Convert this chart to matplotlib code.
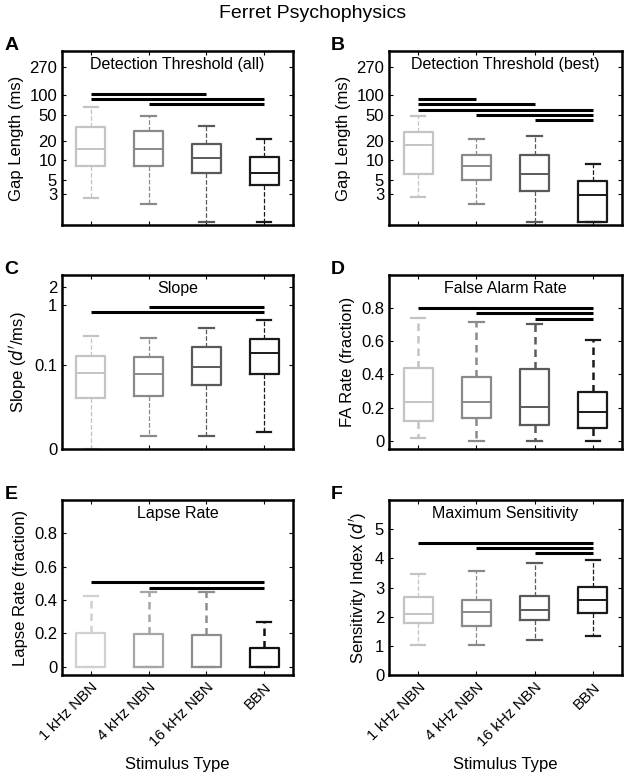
import numpy as np
import matplotlib
matplotlib.use('Agg')
import matplotlib.pyplot as plt
from matplotlib.ticker import FixedLocator, FixedFormatter, NullLocator

plt.rcParams['font.family'] = ['Liberation Sans', 'DejaVu Sans']

stimuli = ['1 kHz NBN', '4 kHz NBN', '16 kHz NBN', 'BBN']

# A: detection threshold (all), ms
A_lo = [2.6, 2.07, 1.1, 1.1]
A_q1 = [8.1, 8.2, 6.3, 4.1]
A_med = [14.7, 14.7, 10.9, 6.4]
A_q3 = [31.8, 27.6, 17.7, 11.3]
A_hi = [66, 48, 33, 21.4]
A_sig = [(1, 3, 106), (1, 4, 86), (2, 4, 72)]

# B: detection threshold (best), ms
B_lo = [2.7, 2.07, 1.1, 1.1]
B_q1 = [6.2, 4.9, 3.3, 1.1]
B_med = [16.9, 8.1, 6.2, 2.9]
B_q3 = [27, 12.1, 11.8, 4.8]
B_hi = [47, 21.2, 23.4, 8.8]
B_sig = [(1, 2, 86), (1, 3, 72), (1, 4, 60), (2, 4, 50), (3, 4, 41)]

# C: slope, d'/ms
C_lo = [0.0, 0.0028, 0.0028, 0.0039]
C_q1 = [0.026, 0.028, 0.046, 0.072]
C_med = [0.0735, 0.071, 0.092, 0.164]
C_q3 = [0.141, 0.139, 0.20, 0.274]
C_hi = [0.311, 0.288, 0.42, 0.572]
C_sig = [(1, 4, 0.757), (2, 4, 0.926)]

# D: false alarm rate
D_lo = [0.018, 0.0, 0.0, 0.0]
D_q1 = [0.121, 0.139, 0.095, 0.075]
D_med = [0.232, 0.232, 0.202, 0.172]
D_q3 = [0.437, 0.383, 0.433, 0.292]
D_hi = [0.74, 0.715, 0.705, 0.607]
D_sig = [(1, 4, 0.80), (2, 4, 0.77), (3, 4, 0.735)]

# E: lapse rate
E_lo = [0.0, 0.0, 0.0, 0.0]
E_q1 = [0.0, 0.0, 0.0, 0.0]
E_med = [0.0, 0.0, 0.0, 0.0]
E_q3 = [0.20, 0.196, 0.19, 0.114]
E_hi = [0.426, 0.446, 0.446, 0.27]
E_sig = [(1, 4, 0.506), (2, 4, 0.474)]

# F: maximum sensitivity, d'
F_lo = [1.04, 1.04, 1.19, 1.33]
F_q1 = [1.79, 1.69, 1.88, 2.13]
F_med = [2.10, 2.17, 2.22, 2.58]
F_q3 = [2.68, 2.58, 2.71, 3.01]
F_hi = [3.45, 3.56, 3.83, 3.93]
F_sig = [(1, 4, 4.53), (2, 4, 4.35), (3, 4, 4.18)]

greys = ['#c4c4c4', '#8a8a8a', '#5a5a5a', '#1a1a1a']
greys_E = ['#d0d0d0', '#a6a6a6', '#8e8e8e', '#111111']

fig = plt.figure(figsize=(6.25, 7.75), dpi=100)
fig.text(0.5, 0.993, 'Ferret Psychophysics', ha='center', va='top', fontsize=14)

W = 625.0
H = 775.0


def make_ax(left, top, right, bottom):
    return fig.add_axes([left / W, 1 - bottom / H, (right - left) / W, (bottom - top) / H])


def draw_panel(ax, lo, q1, med, q3, hi, sig, cols, wls='--', wlw=0.9, title='', letter=''):
    stats = []
    for i in range(4):
        stats.append(dict(med=med[i], q1=q1[i], q3=q3[i], whislo=lo[i], whishi=hi[i], fliers=[]))
    pos = np.arange(1, 5)
    for i in range(4):
        c = cols[i]
        ax.bxp([stats[i]], positions=[pos[i]], widths=0.5, showfliers=False, capwidths=0.25,
               boxprops=dict(color=c, linewidth=1.6),
               medianprops=dict(color=c, linewidth=1.4),
               whiskerprops=dict(color=c, linewidth=wlw, linestyle=wls),
               capprops=dict(color=c, linewidth=1.6))
    for a, b, y in sig:
        ax.plot([a, b], [y, y], color='black', linewidth=2.2, solid_capstyle='butt')
    ax.set_xlim(0.5, 4.5)
    ax.set_xticks(pos)
    ax.tick_params(direction='in', top=True, right=True, length=3, width=0.8, labelsize=12)
    ax.tick_params(axis='x', labelsize=11)
    for s in ax.spines.values():
        s.set_linewidth(1.8)
    ax.set_title(title, y=1.0, pad=-13, fontsize=11.5)
    ax.text(-0.25, 1.03, letter, transform=ax.transAxes, fontsize=14, fontweight='bold',
            ha='left', va='center')


# panel A
axA = make_ax(62, 51, 293, 225)
axA.set_yscale('log')
draw_panel(axA, A_lo, A_q1, A_med, A_q3, A_hi, A_sig, greys, title='Detection Threshold (all)', letter='A')
axA.set_ylim(1, 480)
axA.yaxis.set_major_locator(FixedLocator([3, 5, 10, 20, 50, 100, 270]))
axA.yaxis.set_major_formatter(FixedFormatter(['3', '5', '10', '20', '50', '100', '270']))
axA.yaxis.set_minor_locator(NullLocator())
axA.set_ylabel('Gap Length (ms)', fontsize=12)
axA.set_xticklabels([])

# panel B
axB = make_ax(389, 51, 622, 225)
axB.set_yscale('log')
draw_panel(axB, B_lo, B_q1, B_med, B_q3, B_hi, B_sig, greys, title='Detection Threshold (best)', letter='B')
axB.set_ylim(1, 480)
axB.yaxis.set_major_locator(FixedLocator([3, 5, 10, 20, 50, 100, 270]))
axB.yaxis.set_major_formatter(FixedFormatter(['3', '5', '10', '20', '50', '100', '270']))
axB.yaxis.set_minor_locator(NullLocator())
axB.set_ylabel('Gap Length (ms)', fontsize=12)
axB.set_xticklabels([])

# panel C
off = 0.0045
axC = make_ax(62, 275, 293, 449)
axC.set_yscale('function', functions=(lambda v: np.log10(np.maximum(v + off, 1e-9)),
                                      lambda v: 10 ** v - off))
draw_panel(axC, C_lo, C_q1, C_med, C_q3, C_hi, C_sig, greys, title='Slope', letter='C')
axC.set_ylim(0, 3.1)
axC.yaxis.set_major_locator(FixedLocator([0, 0.1, 1, 2]))
axC.yaxis.set_major_formatter(FixedFormatter(['0', '0.1', '1', '2']))
axC.yaxis.set_minor_locator(NullLocator())
axC.set_ylabel("Slope ($d'$/ms)", fontsize=12)
axC.set_xticklabels([])

# panel D
axD = make_ax(389, 275, 622, 449)
draw_panel(axD, D_lo, D_q1, D_med, D_q3, D_hi, D_sig, greys, wls=(0, (3, 2)), wlw=1.8,
           title='False Alarm Rate', letter='D')
axD.set_ylim(-0.05, 1.0)
axD.set_yticks([0, 0.2, 0.4, 0.6, 0.8])
axD.set_yticklabels(['0', '0.2', '0.4', '0.6', '0.8'])
axD.set_ylabel('FA Rate (fraction)', fontsize=12)
axD.set_xticklabels([])

# panel E
axE = make_ax(62, 500, 293, 675)
draw_panel(axE, E_lo, E_q1, E_med, E_q3, E_hi, E_sig, greys_E, wls=(0, (3, 2)), wlw=1.8,
           title='Lapse Rate', letter='E')
axE.set_ylim(-0.05, 1.0)
axE.set_yticks([0, 0.2, 0.4, 0.6, 0.8])
axE.set_yticklabels(['0', '0.2', '0.4', '0.6', '0.8'])
axE.set_ylabel('Lapse Rate (fraction)', fontsize=12)
axE.set_xticklabels(stimuli, rotation=45, ha='right', rotation_mode='anchor')
axE.set_xlabel('Stimulus Type', fontsize=12, labelpad=6)

# panel F
axF = make_ax(389, 500, 622, 675)
draw_panel(axF, F_lo, F_q1, F_med, F_q3, F_hi, F_sig, greys, title='Maximum Sensitivity', letter='F')
axF.set_ylim(0, 6)
axF.set_yticks([0, 1, 2, 3, 4, 5])
axF.set_ylabel("Sensitivity Index ($d'$)", fontsize=12)
axF.set_xticklabels(stimuli, rotation=45, ha='right', rotation_mode='anchor')
axF.set_xlabel('Stimulus Type', fontsize=12, labelpad=6)

fig.savefig('out.png', dpi=100, facecolor='white')
